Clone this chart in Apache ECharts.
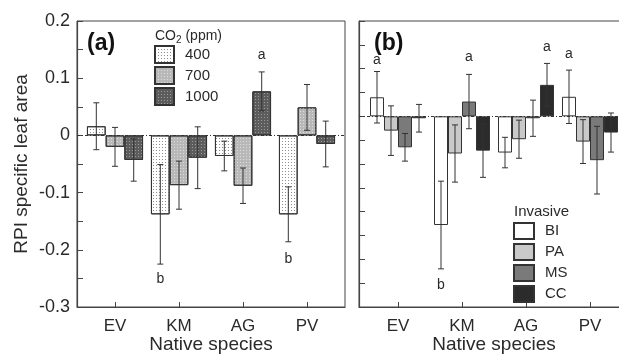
<!DOCTYPE html>
<html>
<head>
<meta charset="utf-8">
<script src="https://cdn.jsdelivr.net/npm/echarts@6/dist/echarts.min.js"></script>
<style>
  html, body { margin: 0; padding: 0; background: #fff; }
  #main { width: 619px; height: 356px; }
</style>
</head>
<body>
<div id="main"></div>
<script>
const categories = ['EV', 'KM', 'AG', 'PV'];
const catPos = [0, 1, 2, 3];

// panel (a): CO2 levels
const co2Names = ['400', '700', '1000'];
const co2_400 = [0.016, -0.138, -0.036, -0.138];
const co2_700 = [-0.020, -0.087, -0.088, 0.049];
const co2_1000 = [-0.043, -0.039, 0.077, -0.015];
const co2_400_err = [0.041, 0.087, 0.026, 0.048];
const co2_700_err = [0.034, 0.042, 0.031, 0.040];
const co2_1000_err = [0.037, 0.054, 0.034, 0.040];
// letters: [category, series index, y, text]
const lettersA = [[2, 2, 0.140, 'a'], [1, 0, -0.251, 'b'], [3, 0, -0.216, 'b']];

// panel (b): invasive species
const invNames = ['BI', 'PA', 'MS', 'CC'];
const bi = [0.040, -0.228, -0.076, 0.041];
const pa = [-0.030, -0.078, -0.048, -0.053];
const ms = [-0.065, 0.031, -0.004, -0.092];
const cc = [-0.004, -0.072, 0.066, -0.034];
const bi_err = [0.054, 0.092, 0.032, 0.056];
const pa_err = [0.052, 0.060, 0.040, 0.046];
const ms_err = [0.029, 0.057, 0.038, 0.071];
const cc_err = [0.029, 0.056, 0.045, 0.041];
const lettersB = [[0, 0, 0.118, 'a'], [1, 2, 0.124, 'a'], [2, 3, 0.145, 'a'], [3, 0, 0.131, 'a'], [1, 0, -0.354, 'b']];

const FONT = 'Liberation Sans, Arial, sans-serif';
const INK = '#2a2a2a';

const chart = echarts.init(document.getElementById('main'));

function barSeries(name, vals, axis, width, color, decal) {
  const s = {
    name: name,
    type: 'bar',
    xAxisIndex: axis, yAxisIndex: axis,
    barWidth: width, barGap: '0%',
    data: vals.map((v, i) => [catPos[i], v]),
    itemStyle: { color: color, borderColor: '#333', borderWidth: 1 },
    emphasis: { disabled: true },
    silent: true
  };
  if (decal) s.itemStyle.decal = decal;
  return s;
}

function errSeries(vals, errs, idx, n, width, axis) {
  return {
    type: 'custom',
    xAxisIndex: axis, yAxisIndex: axis,
    silent: true, z: 5,
    data: vals.map((v, i) => [catPos[i], v, errs[i]]),
    encode: { x: 0, y: 1 },
    renderItem: function (params, api) {
      const x = api.value(0), m = api.value(1), e = api.value(2);
      const off = (idx - (n - 1) / 2) * width;
      const top = api.coord([x, m + e]);
      const bot = api.coord([x, m - e]);
      const cx = top[0] + off;
      const st = { stroke: '#333', lineWidth: 1 };
      return {
        type: 'group',
        children: [
          { type: 'line', shape: { x1: cx, y1: top[1], x2: cx, y2: bot[1] }, style: st },
          { type: 'line', shape: { x1: cx - 3, y1: top[1], x2: cx + 3, y2: top[1] }, style: st },
          { type: 'line', shape: { x1: cx - 3, y1: bot[1], x2: cx + 3, y2: bot[1] }, style: st }
        ]
      };
    }
  };
}

function letterSeries(letters, n, width, axis) {
  return {
    type: 'custom',
    xAxisIndex: axis, yAxisIndex: axis,
    silent: true, z: 6,
    data: letters.map(l => [catPos[l[0]], l[2], l[1]]),
    encode: { x: 0, y: 1 },
    renderItem: function (params, api) {
      const p = api.coord([api.value(0), api.value(1)]);
      const off = (api.value(2) - (n - 1) / 2) * width;
      return {
        type: 'text',
        style: {
          x: p[0] + off, y: p[1], text: letters[params.dataIndex][3],
          fill: INK, font: '14px ' + FONT, align: 'center', verticalAlign: 'middle'
        }
      };
    }
  };
}

const zeroLine = {
  silent: true, symbol: 'none', label: { show: false },
  lineStyle: { color: '#333', type: [3, 2, 1, 2], width: 1.2 },
  data: [{ yAxis: 0 }]
};

const dots = c => ({ symbol: 'rect', symbolSize: 1, dashArrayX: [1, 2], dashArrayY: [1, 2], color: c, rotation: 0 });

const wA = 18.7, wB = 14;
const aVals = [co2_400, co2_700, co2_1000];
const aErrs = [co2_400_err, co2_700_err, co2_1000_err];
const aColors = ['#ffffff', '#b8b8b8', '#5c5c5c'];
const aDecals = [dots('#8c8c8c'), dots('#dddddd'), dots('#9a9a9a')];
const bVals = [bi, pa, ms, cc];
const bErrs = [bi_err, pa_err, ms_err, cc_err];
const bColors = ['#ffffff', '#c9c9c9', '#7a7a7a', '#2b2b2b'];

const series = [];
co2Names.forEach((n, k) => {
  const s = barSeries(n, aVals[k], 0, wA, aColors[k], aDecals[k]);
  if (k === 0) s.markLine = zeroLine;
  series.push(s);
});
invNames.forEach((n, k) => {
  const s = barSeries(n, bVals[k], 1, wB, bColors[k], null);
  if (k === 0) s.markLine = zeroLine;
  series.push(s);
});
co2Names.forEach((n, k) => series.push(errSeries(aVals[k], aErrs[k], k, 3, wA, 0)));
invNames.forEach((n, k) => series.push(errSeries(bVals[k], bErrs[k], k, 4, wB, 1)));
series.push(letterSeries(lettersA, 3, wA, 0));
series.push(letterSeries(lettersB, 4, wB, 1));

function xAxis(grid, min, max) {
  return {
    type: 'value', gridIndex: grid, min: min, max: max,
    name: 'Native species', nameLocation: 'middle', nameGap: 28, nameMoveOverlap: false,
    nameTextStyle: { fontSize: 19, color: INK, fontFamily: FONT },
    axisLine: { onZero: false, lineStyle: { color: '#444', width: 1.2 } },
    axisTick: { inside: true, length: 5, customValues: catPos, lineStyle: { color: '#444' } },
    axisLabel: {
      customValues: catPos, margin: 11, fontSize: 17, color: INK, fontFamily: FONT,
      formatter: v => categories[Math.round(v)]
    },
    splitLine: { show: false }
  };
}

function yAxis(grid, min, labels) {
  const a = {
    type: 'value', gridIndex: grid, min: min, max: 0.2, interval: 0.05,
    axisLine: { show: true, onZero: false, lineStyle: { color: '#444', width: 1.2 } },
    axisTick: { show: true, inside: true, length: 6, lineStyle: { color: '#444' } },
    axisLabel: { show: false },
    splitLine: { show: false }
  };
  if (labels) {
    a.name = 'RPI specific leaf area';
    a.nameLocation = 'middle';
    a.nameGap = 46;
    a.nameTextStyle = { fontSize: 19, color: INK, fontFamily: FONT };
    a.axisLabel = {
      margin: 7, fontSize: 18, color: INK, fontFamily: FONT,
      formatter: v => {
        const k = Math.round(v * 100);
        return k % 10 === 0 ? String(k / 100) : '';
      }
    };
  }
  return a;
}

chart.setOption({
  animation: false,
  title: [
    { text: '(a)', left: 87, top: 32, padding: 0, textStyle: { fontSize: 23, fontWeight: 'bold', color: '#111', fontFamily: FONT } },
    { text: '(b)', left: 374, top: 32, padding: 0, textStyle: { fontSize: 23, fontWeight: 'bold', color: '#111', fontFamily: FONT } },
    { text: '{t|CO}{s|2}{t| (ppm)}', left: 155, top: 27, padding: 0,
      textStyle: { fontWeight: 'normal', rich: {
        t: { fontSize: 14, fontWeight: 'normal', color: INK, fontFamily: FONT },
        s: { fontSize: 10, fontWeight: 'normal', color: INK, fontFamily: FONT, padding: [8, 0, 0, 0] } } } },
    { text: 'Invasive', left: 514, top: 204, padding: 0, textStyle: { fontSize: 15, fontWeight: 'normal', color: INK, fontFamily: FONT } }
  ],
  legend: [
    {
      data: co2Names, orient: 'vertical', left: 154, top: 45, padding: 0, itemWidth: 19, itemHeight: 17, itemGap: 2,
      icon: 'rect', selectedMode: false,
      textStyle: { fontSize: 15, lineHeight: 17, color: INK, fontFamily: FONT, padding: [0, 0, 0, 6] }
    },
    {
      data: invNames, orient: 'vertical', left: 513, top: 222, padding: 0, itemWidth: 20, itemHeight: 16, itemGap: 3,
      icon: 'rect', selectedMode: false,
      textStyle: { fontSize: 15, lineHeight: 16, color: INK, fontFamily: FONT, padding: [0, 0, 0, 6] }
    }
  ],
  grid: [
    { left: 77, top: 21, width: 268, height: 286, outerBoundsMode: 'none', containLabel: false,
      show: true, borderColor: '#444', borderWidth: 1, backgroundColor: 'transparent' },
    { left: 359, top: 21, width: 270, height: 286, outerBoundsMode: 'none', containLabel: false,
      show: true, borderColor: '#444', borderWidth: 1, backgroundColor: 'transparent' }
  ],
  xAxis: [xAxis(0, -38 / 64, 3 + 38 / 64), xAxis(1, -39 / 64, 3 + 39 / 64)],
  yAxis: [yAxis(0, -0.3, true), yAxis(1, -0.4, false)],
  series: series
});
</script>
</body>
</html>
